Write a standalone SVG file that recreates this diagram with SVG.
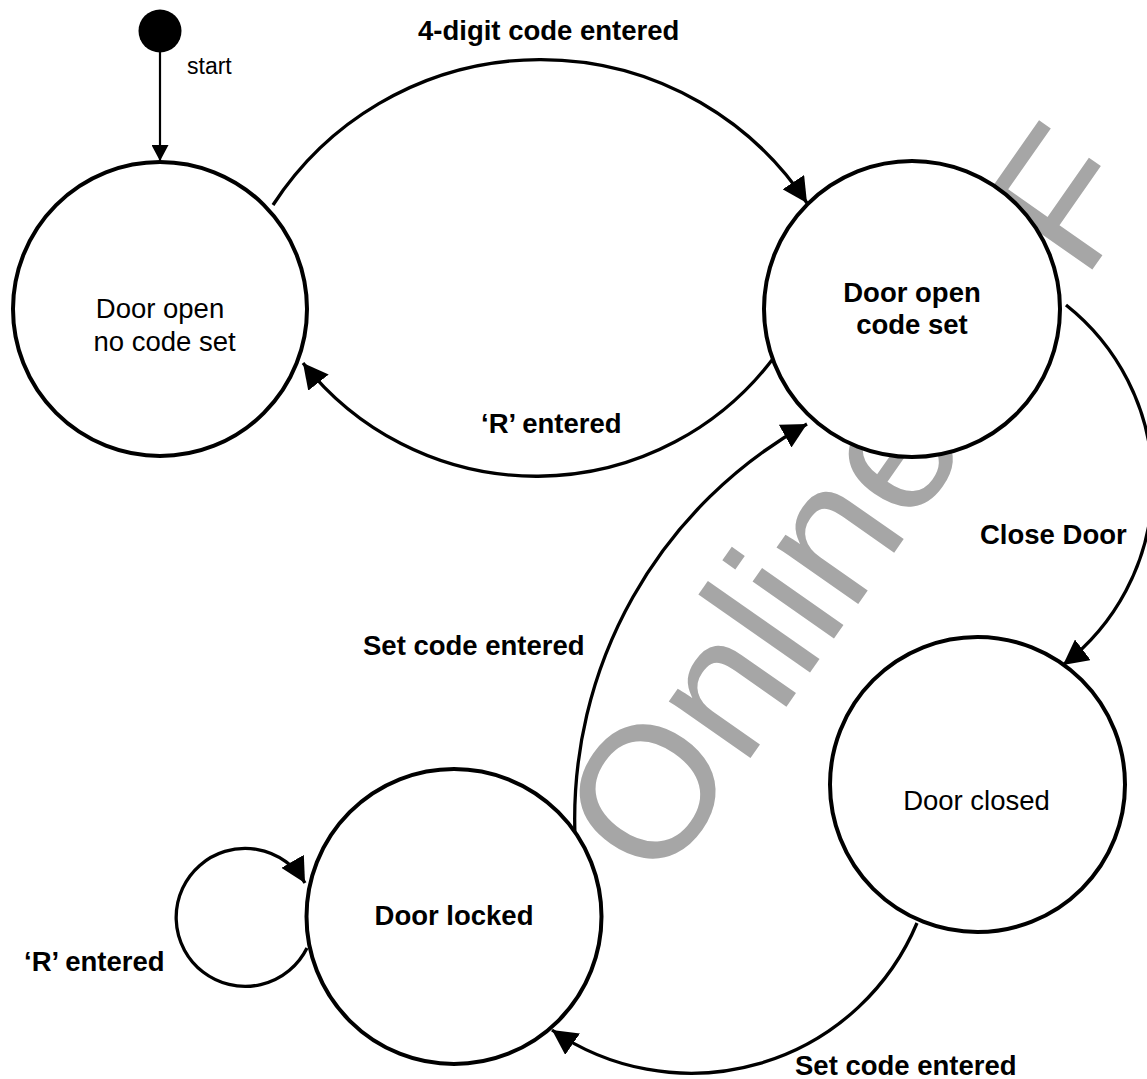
<svg xmlns="http://www.w3.org/2000/svg" width="1147" height="1079" viewBox="0 0 1147 1079">
  <style>
    .node { fill: #ffffff; stroke: #000000; stroke-width: 4; }
    .edge { fill: none; stroke: #000000; stroke-width: 3.3; }
    .lbl { font-family: "Liberation Sans", Arial, sans-serif; font-size: 27.5px; fill: #000000; }
    .b { font-weight: bold; }
    .mid { text-anchor: middle; }
    .wm { font-family: "Liberation Sans", Arial, sans-serif; font-size: 188px; fill: #a6a6a6; }
  </style>
  <defs>
    <marker id="arrow" markerUnits="userSpaceOnUse" viewBox="0 0 25 26" markerWidth="25" markerHeight="26" refX="25" refY="13" orient="auto">
      <path d="M0,0 L25,13 L0,26 z" fill="#000000"/>
    </marker>
    <marker id="arrowSmall" markerUnits="userSpaceOnUse" viewBox="0 0 16 17" markerWidth="16" markerHeight="17" refX="16" refY="8.5" orient="auto">
      <path d="M0,0 L16,8.5 L0,17 z" fill="#000000"/>
    </marker>
  </defs>
  <rect x="0" y="0" width="1147" height="1079" fill="#ffffff"/>

  <g id="watermark" transform="translate(659,888.5) rotate(-55)">
    <text class="wm" x="0" y="0">Online</text>
    <text class="wm" x="740" y="0">F</text>
  </g>

  <g id="connectors">
    <path id="e-start" d="M160,52 L160,161" fill="none" stroke="#000" stroke-width="2.2" marker-end="url(#arrowSmall)"/>
    <path id="e-4digit" class="edge" d="M273,205 A319,319 0 0 1 807,203" marker-end="url(#arrow)"/>
    <path id="e-r1" class="edge" d="M772,360 A297,297 0 0 1 303,363" marker-end="url(#arrow)"/>
    <path id="e-close" class="edge" d="M1066,305 A228,228 0 0 1 1063,665" marker-end="url(#arrow)"/>
    <path id="e-set1" class="edge" d="M575,836 A452,452 0 0 1 807,424" marker-end="url(#arrow)"/>
    <path id="e-set2" class="edge" d="M917,923 A245,245 0 0 1 552,1030" marker-end="url(#arrow)"/>
    <path id="e-r2" class="edge" d="M307,948 A69,69 0 1 1 305,883" marker-end="url(#arrow)"/>
    <text class="lbl" x="187" y="74" style="font-size:23px">start</text>
    <text class="lbl b" x="418" y="39.5">4-digit code entered</text>
    <text class="lbl b" x="481" y="433">‘R’ entered</text>
    <text class="lbl b" x="980" y="544">Close Door</text>
    <text class="lbl b" x="363" y="655">Set code entered</text>
    <text class="lbl b" x="24" y="970.5">‘R’ entered</text>
    <text class="lbl b" x="795" y="1075">Set code entered</text>
  </g>

  <g id="node-start">
    <circle cx="160" cy="31" r="21.5" fill="#000000"/>
  </g>
  <g id="node-open-nocode">
    <circle class="node" cx="160" cy="309" r="147"/>
    <text class="lbl mid" x="160" y="318">Door open</text>
    <text class="lbl mid" x="164.5" y="350.5">no code set</text>
  </g>
  <g id="node-open-code">
    <circle class="node" cx="912" cy="309" r="148"/>
    <text class="lbl b mid" x="912" y="301.5">Door open</text>
    <text class="lbl b mid" x="912" y="334">code set</text>
  </g>
  <g id="node-closed">
    <circle class="node" cx="977.5" cy="784.5" r="147.5"/>
    <text class="lbl mid" x="976.5" y="810">Door closed</text>
  </g>
  <g id="node-locked">
    <circle class="node" cx="454" cy="916.5" r="147.5"/>
    <text class="lbl b mid" x="454" y="925">Door locked</text>
  </g>
</svg>
